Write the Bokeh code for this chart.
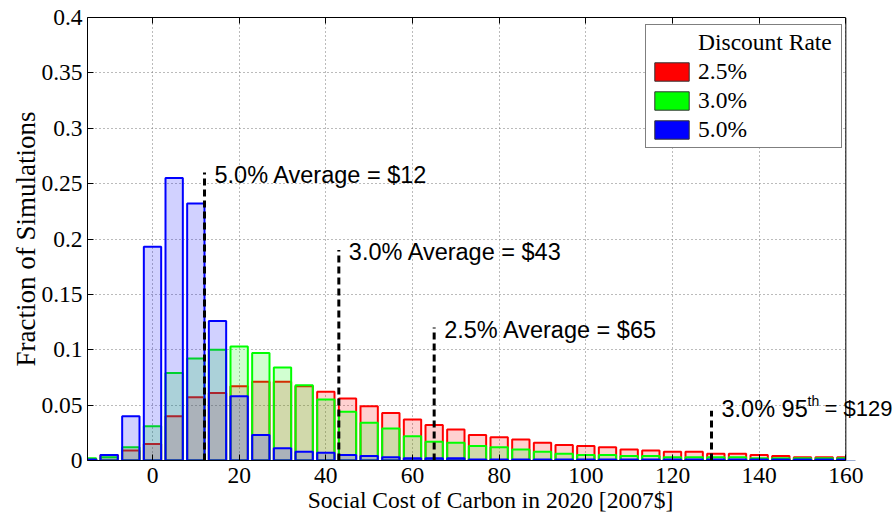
from bokeh.plotting import figure
from bokeh.models import (Range1d, FixedTicker, CustomJSTickFormatter, Label, Legend,
                          LegendItem, LinearAxis, ColumnDataSource, Span)
from bokeh.embed import file_html
from bokeh.resources import INLINE

# ---------------- data ----------------
bins = [-15, -10, -5, 0, 5, 10, 15, 20, 25, 30, 35, 40, 45, 50, 55, 60, 65, 70,
        75, 80, 85, 90, 95, 100, 105, 110, 115, 120, 125, 130, 135, 140, 145, 150, 155, 160]

rate_25 = [0.001, 0.005, 0.009, 0.015, 0.040, 0.057, 0.061, 0.067, 0.071, 0.071, 0.067, 0.062,
           0.056, 0.049, 0.043, 0.037, 0.032, 0.028, 0.023, 0.021, 0.019, 0.016, 0.014, 0.013,
           0.012, 0.010, 0.009, 0.008, 0.008, 0.006, 0.006, 0.005, 0.004, 0.003, 0.003, 0.003]

rate_30 = [0.002, 0.003, 0.012, 0.031, 0.079, 0.092, 0.100, 0.103, 0.097, 0.084, 0.068, 0.055,
           0.044, 0.034, 0.029, 0.022, 0.017, 0.016, 0.013, 0.012, 0.010, 0.008, 0.006, 0.005,
           0.005, 0.004, 0.004, 0.003, 0.003, 0.003, 0.003, 0.002, 0.002, 0.002, 0.002, 0.002]

rate_50 = [0.001, 0.005, 0.040, 0.193, 0.255, 0.232, 0.126, 0.058, 0.023, 0.011, 0.008, 0.007,
           0.005, 0.004, 0.003, 0.002, 0.002, 0.002, 0.001, 0.001, 0.001, 0.001, 0.001, 0.001,
           0.001, 0.001, 0.001, 0.001, 0.001, 0.001, 0.001, 0.001, 0.001, 0.001, 0.001, 0.001]

series_names = ["2.5%", "3.0%", "5.0%"]
series_colors = ["#ff0000", "#00ff00", "#0000ff"]

marker_values = [12, 43, 65, 129]
marker_tops = [0.26, 0.19, 0.12, 0.045]
marker_texts = ["5.0% Average = $12", "3.0% Average = $43", "2.5% Average = $65"]
pct95_parts = ["3.0% 95", "th", "= $129"]

x_ticks = [0, 20, 40, 60, 80, 100, 120, 140, 160]
y_ticks = [0, 0.05, 0.1, 0.15, 0.2, 0.25, 0.3, 0.35, 0.4]
x_start, x_end = -15, 160          # visible axis box
x_canvas_end = 171                 # extra room on the right for the 95th label
y_start, y_end = 0, 0.4

x_title = "Social Cost of Carbon in 2020 [2007$]"
y_title = "Fraction of Simulations"
legend_title = "Discount Rate"

SERIF = "Liberation Serif"
SANS = "Liberation Sans"
FS = "23.5px"

# ---------------- figure ----------------
p = figure(width=894, height=515, x_range=Range1d(x_start, x_canvas_end),
           y_range=Range1d(y_start, y_end),
           output_backend="svg", toolbar_location=None,
           min_border_left=87, min_border_right=1, min_border_top=17, min_border_bottom=55)
p.background_fill_color = "white"
p.border_fill_color = "white"
p.outline_line_color = None

for ax in (p.xaxis[0], p.yaxis[0]):
    ax.major_tick_in = 6
    ax.major_tick_out = 0
    ax.minor_tick_line_color = None
    ax.axis_line_color = "black"
    ax.major_tick_line_color = "black"
    ax.major_label_text_font = SERIF
    ax.major_label_text_font_size = FS
    ax.major_label_text_color = "black"
    ax.axis_label_text_font = SERIF
    ax.axis_label_text_font_style = "normal"
    ax.axis_label_text_color = "black"

p.xaxis.bounds = (x_start, x_end)
p.xaxis.ticker = FixedTicker(ticks=x_ticks)
p.yaxis.ticker = FixedTicker(ticks=y_ticks)
p.yaxis.formatter = CustomJSTickFormatter(code="return String(Math.round(tick*100)/100);")
p.xaxis.axis_label = x_title
p.yaxis.axis_label = y_title
p.xaxis.axis_label_text_font_size = FS
p.yaxis.axis_label_text_font_size = "27px"
p.xaxis.major_label_standoff = 7
p.xaxis.axis_label_standoff = 1
p.yaxis.major_label_standoff = 5
p.yaxis.axis_label_standoff = -3

# tick marks along the top edge (no labels)
top_axis = LinearAxis(ticker=FixedTicker(ticks=x_ticks), bounds=(x_start, x_end),
                      formatter=CustomJSTickFormatter(code="return '';"),
                      major_tick_in=6, major_tick_out=0, minor_tick_line_color=None,
                      axis_line_color="black", major_label_standoff=0,
                      major_label_text_font_size="1px")
p.add_layout(top_axis, "above")

p.xgrid.ticker = FixedTicker(ticks=x_ticks)
p.ygrid.ticker = FixedTicker(ticks=y_ticks)
for g in (p.xgrid[0], p.ygrid[0]):
    g.grid_line_color = "#777777"
    g.grid_line_dash = "1 3"
    g.grid_line_width = 1

# ---------------- bars ----------------
src = ColumnDataSource(dict(x=bins, r25=rate_25, r30=rate_30, r50=rate_50))
for col, color in zip(["r25", "r30", "r50"], series_colors):
    p.vbar(x="x", top=col, width=4.0, source=src, fill_color=color, fill_alpha=0.18,
           line_color=color, line_width=2)

# white mask right of the axis box, then the box's right edge
p.quad(left=[x_end], right=[x_canvas_end], bottom=[y_start], top=[y_end],
       fill_color="white", line_color=None, level="guide")
p.add_layout(Span(location=x_end, dimension="height", line_color="black", line_width=1))

# ---------------- markers (averages / 95th) ----------------
p.segment(x0=marker_values, y0=[0] * len(marker_values), x1=marker_values, y1=marker_tops,
          line_color="black", line_width=3, line_dash="7 4")

for xv, yv, txt in zip(marker_values[:3], marker_tops[:3], marker_texts):
    p.add_layout(Label(x=xv, y=yv, x_offset=10, y_offset=-2, text=txt, text_font=SANS,
                       text_font_size=FS, text_baseline="middle", text_color="black"))

xv, yv = marker_values[3], marker_tops[3]
p.add_layout(Label(x=xv, y=yv, x_offset=10, y_offset=2, text=pct95_parts[0], text_font=SANS,
                   text_font_size=FS, text_baseline="middle", text_color="black"))
p.add_layout(Label(x=xv, y=yv, x_offset=96, y_offset=10, text=pct95_parts[1], text_font=SANS,
                   text_font_size="14px", text_baseline="middle", text_color="black"))
p.add_layout(Label(x=xv, y=yv, x_offset=113, y_offset=2, text=pct95_parts[2], text_font=SANS,
                   text_font_size="22px", text_baseline="middle", text_color="black"))

# ---------------- legend ----------------
title_r = p.vbar(x=[bins[0]], top=[float("nan")], width=1, fill_color=None, line_color=None)
items = [LegendItem(label=legend_title, renderers=[title_r])]
for name, color in zip(series_names, series_colors):
    r = p.vbar(x=[bins[0]], top=[float("nan")], width=1, fill_color=color,
               line_color="#333333", line_width=1)
    items.append(LegendItem(label=name, renderers=[r]))

legend = Legend(items=items, location=(558, 312),
                label_text_font=SERIF, label_text_font_size=FS, label_text_color="black",
                glyph_width=43, glyph_height=23, label_standoff=5, label_width=139,
                spacing=2, padding=4, margin=0,
                border_line_color="black", border_line_width=1,
                background_fill_color="white", background_fill_alpha=1.0)
p.add_layout(legend)

open("out.html", "w").write(file_html(p, INLINE))
